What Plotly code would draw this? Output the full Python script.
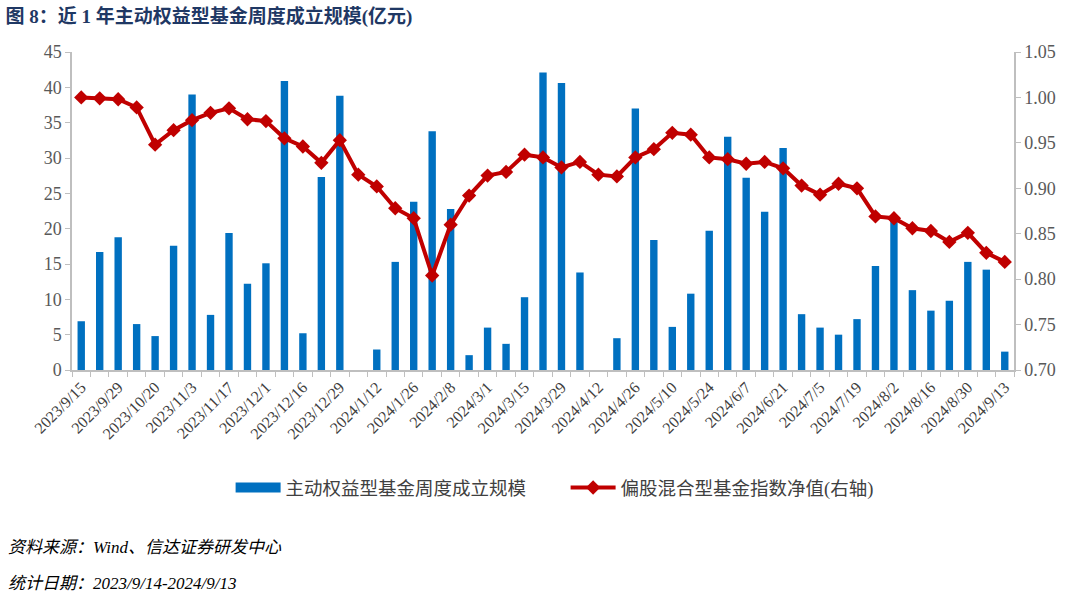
import plotly.graph_objects as go

dates = ["2023/9/15","2023/9/22","2023/9/29","2023/10/13","2023/10/20","2023/10/27","2023/11/3","2023/11/10",
         "2023/11/17","2023/11/24","2023/12/1","2023/12/8","2023/12/16","2023/12/22","2023/12/29","2024/1/5",
         "2024/1/12","2024/1/19","2024/1/26","2024/2/2","2024/2/8","2024/2/23","2024/3/1","2024/3/8",
         "2024/3/15","2024/3/22","2024/3/29","2024/4/3","2024/4/12","2024/4/19","2024/4/26","2024/4/30",
         "2024/5/10","2024/5/17","2024/5/24","2024/5/31","2024/6/7","2024/6/14","2024/6/21","2024/6/28",
         "2024/7/5","2024/7/12","2024/7/19","2024/7/26","2024/8/2","2024/8/9","2024/8/16","2024/8/23",
         "2024/8/30","2024/9/6","2024/9/13"]

fund_size = [6.9, 16.7, 18.8, 6.5, 4.8, 17.6, 39.0, 7.8, 19.4, 12.2, 15.1, 40.9, 5.2, 27.3, 38.8, 0.0,
             2.9, 15.3, 23.8, 33.8, 22.8, 2.1, 6.0, 3.7, 10.3, 42.1, 40.6, 13.8, 0.0, 4.5, 37.0, 18.4,
             6.1, 10.8, 19.7, 33.0, 27.2, 22.4, 31.4, 7.9, 6.0, 5.0, 7.2, 14.7, 21.5, 11.3, 8.4, 9.8,
             15.3, 14.2, 2.6]

index_nav = [1.000, 0.999, 0.998, 0.989, 0.948, 0.964, 0.975, 0.983, 0.988, 0.976, 0.974, 0.955, 0.946,
             0.928, 0.953, 0.915, 0.902, 0.878, 0.867, 0.804, 0.860, 0.892, 0.914, 0.918, 0.937, 0.934,
             0.923, 0.929, 0.915, 0.913, 0.934, 0.943, 0.961, 0.959, 0.934, 0.932, 0.927, 0.929, 0.922,
             0.903, 0.893, 0.905, 0.900, 0.869, 0.867, 0.856, 0.853, 0.841, 0.851, 0.829, 0.819]

tick_text = [d if i % 2 == 0 else "" for i, d in enumerate(dates)]

bar_name = "主动权益型基金周度成立规模"
line_name = "偏股混合型基金指数净值(右轴)"
title_text = "图 8：近 1 年主动权益型基金周度成立规模(亿元)"
note1 = "资料来源：Wind、信达证券研发中心"
note2 = "统计日期：2023/9/14-2024/9/13"

SERIF = "Liberation Serif, Noto Sans CJK SC, serif"
CJK = "Liberation Serif, Noto Sans CJK SC"
BLUE = "#0070C0"
RED = "#C00000"

fig = go.Figure()
fig.add_trace(go.Bar(x=dates, y=fund_size, name=bar_name, marker=dict(color=BLUE, line=dict(width=0)),
                     width=0.4, yaxis="y", showlegend=False))
# legend proxy for the bar series (wide rectangle swatch)
fig.add_trace(go.Scatter(x=[None], y=[None], name=bar_name, mode="lines",
                         line=dict(color=BLUE, width=12), yaxis="y", legendrank=1))
fig.add_trace(go.Scatter(x=dates, y=index_nav, name=line_name, mode="lines+markers",
                         line=dict(color=RED, width=4),
                         marker=dict(symbol="diamond", size=11, color=RED), yaxis="y2", legendrank=2))

axis_color = "#BFBFBF"
fig.update_layout(
    width=1080, height=596,
    margin=dict(l=72, r=66, t=52, b=226),
    paper_bgcolor="white", plot_bgcolor="white",
    bargap=0.6,
    showlegend=True,
    legend=dict(orientation="h", x=0.524, xanchor="center", y=-0.371, yanchor="middle",
                font=dict(family=CJK, size=18.5, color="#404040"), itemwidth=45,
                entrywidth=275, entrywidthmode="pixels", traceorder="normal"),
    xaxis=dict(type="category", tickmode="array", tickvals=dates, ticktext=tick_text,
               tickangle=-45, tickson="boundaries", ticks="outside", ticklen=5, tickcolor=axis_color,
               showline=True, linecolor=axis_color, linewidth=1.5, showgrid=False,
               tickfont=dict(family=SERIF, size=16, color="#404040"), range=[-0.5, 50.5]),
    yaxis=dict(range=[0, 45], dtick=5, tickmode="linear", tick0=0, showgrid=False, zeroline=False,
               showline=True, linecolor=axis_color, linewidth=1.5, ticks="outside", ticklen=5,
               tickcolor=axis_color, tickfont=dict(family=SERIF, size=18, color="#595959")),
    yaxis2=dict(range=[0.70, 1.05], dtick=0.05, tick0=0.70, tickmode="linear", overlaying="y", side="right",
                showgrid=False, zeroline=False, showline=True, linecolor=axis_color, linewidth=1.5,
                ticks="outside", ticklen=5, tickcolor=axis_color, tickformat=".2f",
                tickfont=dict(family=SERIF, size=18, color="#595959")),
    title=dict(text="<b>" + title_text + "</b>", x=0.005, xanchor="left", xref="container",
               y=1 - 16 / 596, yanchor="middle", yref="container",
               font=dict(family=CJK, size=19, color="#1F3864")),
)

fig.add_annotation(text="<i>" + note1 + "</i>", xref="paper", yref="paper", x=(6 - 72) / 942,
                   y=(370 - 547) / 318, xanchor="left", yanchor="middle", showarrow=False,
                   font=dict(family=CJK, size=17, color="#000000"))
fig.add_annotation(text="<i>" + note2 + "</i>", xref="paper", yref="paper", x=(6 - 72) / 942,
                   y=(370 - 583) / 318, xanchor="left", yanchor="middle", showarrow=False,
                   font=dict(family=CJK, size=17, color="#000000"))

fig.write_html("out.html", config={"displayModeBar": False},
               post_script="document.body.style.margin='0';document.body.style.overflow='hidden';")
